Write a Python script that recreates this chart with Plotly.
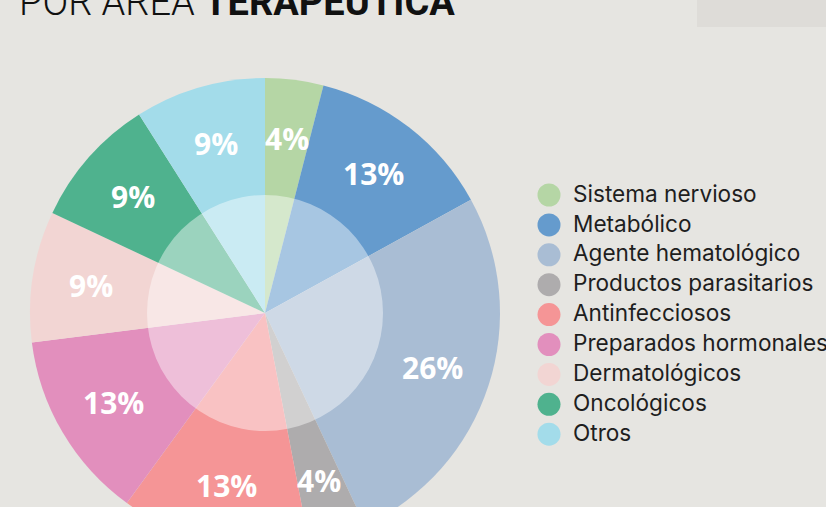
import math
import plotly.graph_objects as go

# ---- data ----
categories = ["Sistema nervioso", "Metabólico", "Agente hematológico",
              "Productos parasitarios", "Antinfecciosos", "Preparados hormonales",
              "Dermatológicos", "Oncológicos", "Otros"]
values = [4, 13, 26, 4, 13, 13, 9, 9, 9]
colors = ["#b5d6a5", "#659bcd", "#a9bdd4", "#aeacad", "#f59596",
          "#e28fbd", "#f2d5d3", "#4fb28e", "#a3dcea"]
title_light = "POR ÁREA "
title_bold = "TERAPÉUTICA"

# ---- layout geometry (pixels, top-left origin) ----
W, H = 826, 626
CX, CY, R = 265, 313, 235
R_INNER = 118
BG = "#e6e5e1"

fig = go.Figure()

fig.add_trace(go.Pie(
    labels=categories, values=values, sort=False, direction="clockwise",
    rotation=0, marker=dict(colors=colors, line=dict(width=0)),
    textinfo="none", hoverinfo="label+percent", showlegend=False,
    domain=dict(x=[(CX - R) / W, (CX + R) / W],
                y=[1 - (CY + R) / H, 1 - (CY - R) / H]),
))

# custom legend with circle markers
leg_x, leg_y0, leg_dy = 549, 195, 29.9
leg_y = [leg_y0 + i * leg_dy for i in range(len(categories))]
fig.add_trace(go.Scatter(
    x=[leg_x] * len(categories), y=leg_y, mode="markers",
    marker=dict(size=23, color=colors, line=dict(width=0)),
    hoverinfo="skip", showlegend=False))
fig.add_trace(go.Scatter(
    x=[leg_x + 24] * len(categories), y=[v + 1 for v in leg_y], mode="text",
    text=categories, textposition="middle right",
    textfont=dict(family="Inter", size=22.6, color="#1e1e1e"),
    hoverinfo="skip", showlegend=False))

# percentage labels on slices
total = sum(values)
annotations = []
cum = 0
for v in values:
    mid = (cum + v / 2) / total * 2 * math.pi
    cum += v
    annotations.append(dict(
        x=CX + 0.75 * R * math.sin(mid), y=CY - 0.75 * R * math.cos(mid),
        xref="x", yref="y", text=f"<b>{v}%</b>", showarrow=False,
        font=dict(family="Open Sans", size=30, color="white"),
        xanchor="center", yanchor="middle"))

# title (partially cut at top)
annotations.append(dict(
    x=17, y=0, xref="x", yref="y", xanchor="left", yanchor="bottom",
    yshift=-26,
    text=f"{title_light}<b>{title_bold}</b>", showarrow=False,
    font=dict(family="Roboto", size=38, color="#111111", weight=300)))

shapes = [
    dict(type="rect", xref="x", yref="y", x0=697, x1=826, y0=0, y1=27,
         fillcolor="#dedcd8", line=dict(width=0), layer="below"),
    dict(type="circle", xref="x", yref="y",
         x0=CX - R_INNER, x1=CX + R_INNER, y0=CY - R_INNER, y1=CY + R_INNER,
         fillcolor="rgba(255,255,255,0.43)", line=dict(width=0), layer="above"),
]

fig.update_layout(
    width=W, height=H, margin=dict(l=0, r=0, t=0, b=0),
    paper_bgcolor=BG, plot_bgcolor=BG,
    xaxis=dict(range=[0, W], visible=False, fixedrange=True),
    yaxis=dict(range=[H, 0], visible=False, fixedrange=True),
    annotations=annotations, shapes=shapes, showlegend=False,
)

fig.write_html("out.html", post_script="document.documentElement.style.overflow='hidden';document.body.style.overflow='hidden';document.body.style.margin='0';")
